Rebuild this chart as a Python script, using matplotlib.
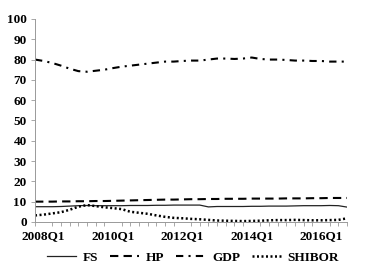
import matplotlib
matplotlib.use("Agg")
import matplotlib.pyplot as plt
import numpy as np

quarters = [f"{y}Q{q}" for y in range(2008, 2017) for q in range(1, 5)]
quarters = ["2007Q4"] + quarters  # 37 points

FS = [7.5, 7.5, 7.5, 7.6, 7.8, 8.0, 8.1, 8.0, 8.0, 8.0, 8.0, 8.1, 8.1, 8.1, 8.2, 8.2,
      8.3, 8.3, 8.3, 8.3, 7.4, 7.6, 7.6, 7.6, 7.6, 7.7, 7.7, 7.8, 7.8, 7.8, 7.9, 8.0,
      8.0, 8.0, 8.1, 8.0, 7.3]
HP = [10.0, 10.0, 10.0, 10.1, 10.1, 10.2, 10.2, 10.3, 10.3, 10.4, 10.5, 10.6, 10.7, 10.8, 10.9, 11.0,
      11.0, 11.1, 11.2, 11.2, 11.3, 11.3, 11.4, 11.4, 11.4, 11.5, 11.5, 11.5, 11.5, 11.6, 11.6, 11.6,
      11.7, 11.7, 11.8, 11.8, 11.8]
GDP = [80.0, 79.3, 78.3, 77.0, 75.5, 74.3, 74.0, 74.5, 75.0, 75.8, 76.5, 77.0, 77.5, 78.0, 78.5, 79.0,
       79.0, 79.3, 79.5, 79.5, 80.0, 80.5, 80.5, 80.3, 80.5, 81.0, 80.3, 80.0, 80.0, 79.8, 79.5, 79.5,
       79.3, 79.3, 79.0, 79.0, 79.0]
SHIBOR = [3.2, 3.6, 4.2, 4.8, 6.0, 7.5, 8.3, 7.8, 7.2, 6.8, 6.3, 5.0, 4.5, 4.0, 3.2, 2.5,
          2.0, 1.8, 1.5, 1.3, 1.0, 0.7, 0.6, 0.5, 0.4, 0.5, 0.6, 0.8, 0.9, 0.9, 1.0, 0.9,
          0.8, 0.8, 0.9, 1.0, 1.8]
tick_labels = ["2008Q1", "2010Q1", "2012Q1", "2014Q1", "2016Q1"]

plt.rcParams['font.family'] = ['Liberation Serif', 'DejaVu Serif']
fig = plt.figure(figsize=(3.65, 2.75), dpi=100)
ax = fig.add_axes([0.096, 0.193, 0.855, 0.738])

x = np.arange(len(quarters))
ax.plot(x, FS, color='#222222', lw=0.9, ls='-', label='FS')
ax.plot(x, HP, color='black', lw=1.5, ls=(0, (4, 2.5)), label='HP')
ax.plot(x, GDP, color='black', lw=1.5, ls=(0, (3.5, 2.5, 1.0, 2.5)), label='GDP')
ax.plot(x, SHIBOR, color='black', lw=1.8, ls=(0, (0.8, 1.0)), label='SHIBOR')

ax.set_xlim(0, len(quarters) - 1)
ax.set_ylim(0, 100)
ax.set_yticks(range(0, 101, 10))
pos = [quarters.index(t) for t in tick_labels]
ax.set_xticks(pos)
ax.set_xticklabels(tick_labels)
ax.set_xticks(x, minor=True)
ax.tick_params(axis='x', which='major', length=0, pad=6, labelsize=9.5)
ax.tick_params(axis='x', which='minor', length=3, direction='out', color='#999999', width=0.6)
ax.tick_params(axis='y', length=3, direction='out', color='#999999', width=0.6, labelsize=9.5, pad=3)
for lab in ax.get_xticklabels() + ax.get_yticklabels():
    lab.set_fontweight('bold')
for s in ['top', 'right']:
    ax.spines[s].set_visible(False)
for s in ['left', 'bottom']:
    ax.spines[s].set_color('#999999')
    ax.spines[s].set_linewidth(0.7)

leg = fig.legend(loc='center', bbox_to_anchor=(0.529, 0.062), ncol=4, frameon=False,
                 handlelength=2.2, handletextpad=0.5, columnspacing=0.9,
                 prop={'size': 9.5, 'weight': 'bold'})
fig.savefig('out.png', dpi=100)
